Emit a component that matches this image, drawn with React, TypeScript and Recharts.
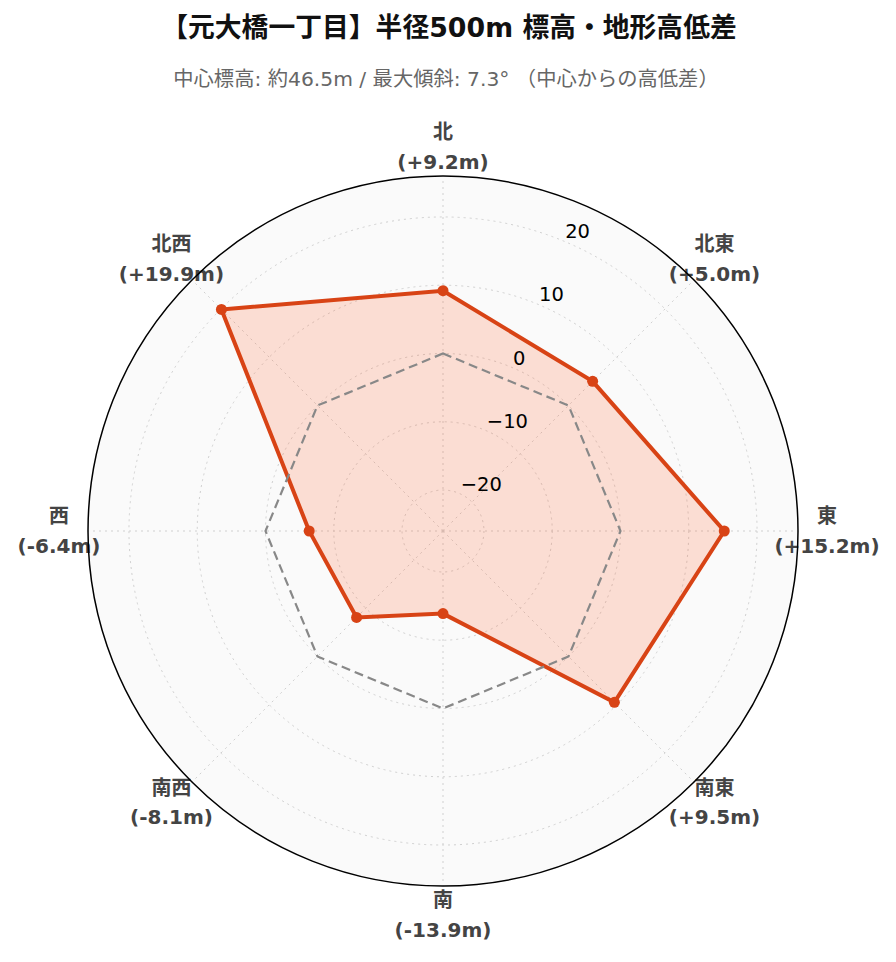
import React from "react";
import { RadarChart, Radar, PolarGrid, PolarAngleAxis, PolarRadiusAxis } from "recharts";

const directions = ["北", "北東", "東", "南東", "南", "南西", "西", "北西"];
const elevationDiffs = [9.2, 5.0, 15.2, 9.5, -13.9, -8.1, -6.4, 19.9];
const zeroLine = [0, 0, 0, 0, 0, 0, 0, 0];
const radiusTicks = [-20, -10, 0, 10, 20];
const radiusDomain = [-25.87, 25.87];
const titleText = "【元大橋一丁目】半径500m 標高・地形高低差";
const subtitleText = "中心標高: 約46.5m / 最大傾斜: 7.3° （中心からの高低差）";

const data = directions.map((d, i) => ({
  dir: d,
  value: elevationDiffs[i],
  zero: zeroLine[i],
  label: `(${elevationDiffs[i] >= 0 ? "+" : ""}${elevationDiffs[i].toFixed(1)}m)`,
}));

const W = 880;
const H = 946;
const CX = 435;
const CY = 523;
const R = 355;
const LABEL_R = 384;
const FONT = '"DejaVu Sans", "Noto Sans CJK JP", sans-serif';
const ORANGE = "#d84315";

const AngleTick = (props: any) => {
  const { x, y, payload, index } = props;
  const dx = x - CX;
  const dy = y - CY;
  const len = Math.sqrt(dx * dx + dy * dy) || 1;
  const lx = CX + (dx / len) * LABEL_R;
  const ly = CY + (dy / len) * LABEL_R;
  const d = data[index] || data.find((e) => e.dir === payload.value);
  return (
    <g>
      <text x={lx} y={ly - 8} textAnchor="middle" fontSize={20} fontWeight="bold" fill="#444" fontFamily={FONT}>
        {payload.value}
      </text>
      <text x={lx} y={ly + 21.5} textAnchor="middle" fontSize={20} fontWeight="bold" fill="#444" fontFamily={FONT}>
        {d ? d.label : ""}
      </text>
    </g>
  );
};

const RadiusTick = (props: any) => {
  const { x, y, payload } = props;
  const v = Number(payload.value);
  const s = v < 0 ? "\u2212" + Math.abs(v) : String(v);
  return (
    <text x={x + 2} y={y - 2.5} textAnchor="start" fontSize={19.5} fill="#000" fontFamily={FONT}>
      {s}
    </text>
  );
};

export default function App() {
  return (
    <div style={{ position: "relative", width: W, height: H }}>
      <svg width={W} height={H} style={{ position: "absolute", left: 0, top: 0 }}>
        <circle cx={CX} cy={CY} r={R} fill="#fafafa" />
        <text x={441} y={28.5} textAnchor="middle" fontSize={26.8} fontWeight="bold" fill="#111" fontFamily={FONT}>
          {titleText}
        </text>
        <text x={438} y={77.5} textAnchor="middle" fontSize={20.3} fill="#666" fontFamily={FONT}>
          {subtitleText}
        </text>
      </svg>
      <div style={{ position: "absolute", left: 0, top: 0 }}>
        <RadarChart width={W} height={H} data={data} cx={CX} cy={CY} outerRadius={R} innerRadius={0} margin={{ top: 0, right: 0, bottom: 0, left: 0 }}>
          <PolarGrid gridType="circle" stroke="#d0d0d0" strokeDasharray="2 4" strokeWidth={1} />
          <PolarAngleAxis dataKey="dir" tick={<AngleTick />} tickLine={false} axisLine={false} tickSize={30} />
          <PolarRadiusAxis
            type="number"
            domain={radiusDomain}
            ticks={radiusTicks}
            angle={67.5}
            axisLine={false}
            tickLine={false}
            tick={<RadiusTick />}
            allowDataOverflow
          />
          <Radar
            dataKey="value"
            stroke={ORANGE}
            strokeWidth={4}
            fill="#ff5722"
            fillOpacity={0.18}
            dot={{ r: 5.5, fill: ORANGE, stroke: ORANGE, strokeWidth: 0, fillOpacity: 1 }}
            isAnimationActive={false}
          />
          <Radar
            dataKey="zero"
            stroke="#888"
            strokeWidth={2.2}
            strokeDasharray="9 5"
            fill="none"
            fillOpacity={0}
            dot={false}
            isAnimationActive={false}
          />
        </RadarChart>
      </div>
      <svg width={W} height={H} style={{ position: "absolute", left: 0, top: 0, pointerEvents: "none" }}>
        <circle cx={CX} cy={CY} r={R} fill="none" stroke="#000" strokeWidth={1.5} />
      </svg>
    </div>
  );
}
